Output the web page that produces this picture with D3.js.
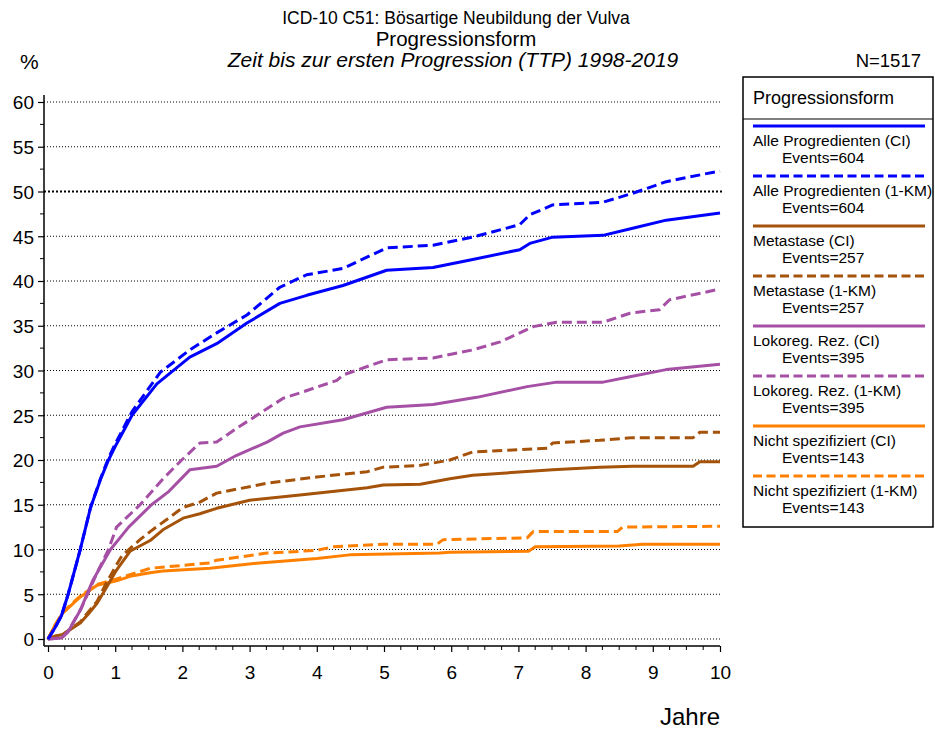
<!DOCTYPE html>
<html>
<head>
<meta charset="utf-8">
<script src="https://cdn.jsdelivr.net/npm/d3@7"></script>
<style>
  body { margin: 0; background: #fff; }
  text { font-family: "Liberation Sans", Arial, sans-serif; }
</style>
</head>
<body>
<div id="chart"></div>
<script>
// values, [years, percent]
const alleCI = [[0,0],[0.1,1.2],[0.2,2.6],[0.3,5],[0.48,10],[0.63,14.6],[0.78,17.8],[0.9,20],[1.0,21.5],[1.25,25],[1.62,28.5],[2.11,31.5],[2.51,33.0],[2.96,35.3],[3.45,37.5],[3.85,38.4],[4.39,39.5],[5.04,41.2],[5.73,41.5],[6.32,42.4],[7.02,43.5],[7.17,44.2],[7.51,44.9],[8.26,45.1],[8.7,45.9],[9.2,46.8],[10,47.6]];
const alleKM = [[0,0],[0.1,1.2],[0.2,2.6],[0.3,5],[0.48,10],[0.63,14.6],[0.78,17.9],[0.9,20.2],[1.0,21.8],[1.25,25.4],[1.67,29.8],[2.11,32.3],[2.51,34.2],[2.96,36.2],[3.45,39.3],[3.85,40.7],[4.39,41.4],[5.04,43.7],[5.73,44.0],[6.32,44.9],[7.02,46.3],[7.17,47.4],[7.51,48.5],[8.26,48.8],[8.7,49.8],[9.2,51.1],[10,52.3]];
const metaCI = [[0,0],[0.1,0.3],[0.22,0.5],[0.48,1.8],[0.6,2.8],[0.73,4.0],[0.85,5.5],[1.02,7.7],[1.22,9.8],[1.52,11.0],[1.71,12.2],[2.01,13.5],[2.26,14.0],[2.51,14.6],[3.0,15.5],[3.75,16.1],[4.75,16.9],[4.99,17.2],[5.54,17.3],[5.98,17.9],[6.32,18.3],[7.51,18.9],[8.21,19.2],[8.7,19.3],[9.6,19.3],[9.7,19.8],[10,19.8]];
const metaKM = [[0,0],[0.1,0.3],[0.22,0.5],[0.48,1.9],[0.73,4.2],[0.85,6.0],[1.02,8.3],[1.1,9.3],[1.37,11.1],[1.52,12.0],[2.01,14.7],[2.26,15.3],[2.51,16.3],[3.26,17.4],[4.0,18.1],[4.75,18.7],[4.99,19.2],[5.54,19.4],[5.98,20.0],[6.32,20.9],[7.43,21.3],[7.51,21.9],[8.21,22.2],[8.7,22.5],[9.6,22.5],[9.7,23.1],[10,23.1]];
const lokoCI = [[0,0],[0.2,0.1],[0.3,0.8],[0.48,3.2],[0.67,6.6],[0.93,10],[1.2,12.5],[1.54,15],[1.8,16.5],[2.11,18.9],[2.51,19.3],[2.8,20.5],[3.26,22.0],[3.5,23.0],[3.75,23.7],[4.39,24.5],[5.04,25.9],[5.73,26.2],[6.38,27.0],[7.13,28.2],[7.57,28.7],[8.26,28.7],[8.66,29.3],[9.2,30.1],[10,30.7]];
const lokoKM = [[0,0],[0.2,0.1],[0.3,0.9],[0.5,3.5],[0.73,7.4],[0.9,10],[1.02,12.5],[1.37,15],[1.7,17.8],[1.99,20],[2.26,21.9],[2.51,22.0],[2.8,23.5],[3.15,25.2],[3.5,26.9],[3.75,27.5],[4.3,28.9],[4.39,29.5],[5.04,31.2],[5.73,31.4],[6.32,32.3],[6.73,33.2],[7.22,34.9],[7.57,35.4],[8.26,35.4],[8.66,36.4],[9.1,36.8],[9.25,37.9],[10,39.1]];
const nichtCI = [[0,0],[0.1,1.5],[0.22,2.9],[0.48,4.7],[0.73,6.0],[1.02,6.5],[1.22,7.0],[1.52,7.4],[1.71,7.6],[2.41,7.9],[3.15,8.5],[4.0,9.0],[4.49,9.4],[5.83,9.6],[5.98,9.7],[7.15,9.8],[7.25,10.3],[8.5,10.4],[8.85,10.6],[10,10.6]];
const nichtKM = [[0,0],[0.1,1.5],[0.22,3.0],[0.48,4.8],[0.73,6.1],[1.02,6.7],[1.52,7.9],[2.41,8.5],[2.51,8.8],[3.26,9.6],[4.0,9.9],[4.24,10.3],[4.99,10.6],[5.79,10.6],[5.88,11.1],[7.13,11.3],[7.22,12.0],[8.47,12.0],[8.55,12.5],[10,12.6]];

const seriesNames = ["Alle Progredienten (CI)", "Alle Progredienten (1-KM)", "Metastase (CI)", "Metastase (1-KM)", "Lokoreg. Rez. (CI)", "Lokoreg. Rez. (1-KM)", "Nicht spezifiziert (CI)", "Nicht spezifiziert (1-KM)"];
const seriesEvents = [604, 604, 257, 257, 395, 395, 143, 143];
const seriesData = [alleCI, alleKM, metaCI, metaKM, lokoCI, lokoKM, nichtCI, nichtKM];
const yTicks = [0, 5, 10, 15, 20, 25, 30, 35, 40, 45, 50, 55, 60];
const xTicks = [0, 1, 2, 3, 4, 5, 6, 7, 8, 9, 10];

const colors = ["#0000ff", "#0000ff", "#a5520a", "#a5520a", "#a550a5", "#a550a5", "#ff8000", "#ff8000"];
const dashed = [false, true, false, true, false, true, false, true];

const width = 935;
const height = 729;

const svg = d3.select("#chart")
    .append("svg")
    .attr("width", width)
    .attr("height", height);

const x = d3.scaleLinear().domain([0, 10]).range([48, 720]);
const y = d3.scaleLinear().domain([0, 60]).range([639, 102]);

const axisX = 44;
const axisY = 646;

// grid
svg.append("g")
    .selectAll("line")
    .data(yTicks)
    .enter()
    .append("line")
    .attr("x1", axisX)
    .attr("x2", x(10) + 2)
    .attr("y1", d => y(d))
    .attr("y2", d => y(d))
    .attr("stroke", "#000")
    .attr("stroke-width", d => d === 50 ? 2 : 1)
    .attr("stroke-dasharray", d => d === 50 ? "2,2" : "1,2");

// y axis
const yAxis = svg.append("g")
    .attr("transform", `translate(${axisX},0)`)
    .call(d3.axisLeft(y).tickValues(yTicks).tickSize(6).tickPadding(4));
yAxis.select(".domain").remove();
yAxis.selectAll("text").attr("font-size", 19).attr("font-family", "Liberation Sans, Arial, sans-serif").attr("dy", "0.36em");
yAxis.selectAll("line").attr("stroke-width", 1.2);
svg.append("g")
    .selectAll("line")
    .data(d3.range(2.5, 60, 5))
    .enter()
    .append("line")
    .attr("x1", axisX - 4)
    .attr("x2", axisX)
    .attr("y1", d => y(d))
    .attr("y2", d => y(d))
    .attr("stroke", "#000");
svg.append("line")
    .attr("x1", axisX).attr("x2", axisX)
    .attr("y1", y(60) - 7).attr("y2", axisY)
    .attr("stroke", "#000").attr("stroke-width", 1.5);

// x axis
const xAxis = svg.append("g")
    .attr("transform", `translate(0,${axisY})`)
    .call(d3.axisBottom(x).tickValues(xTicks).tickSize(6).tickPadding(14));
xAxis.select(".domain").remove();
xAxis.selectAll("text").attr("font-size", 19).attr("font-family", "Liberation Sans, Arial, sans-serif");
xAxis.selectAll("line").attr("stroke-width", 1.2);
svg.append("g")
    .selectAll("line")
    .data(d3.range(0.25, 10, 0.25).filter(d => Math.abs(d - Math.round(d)) > 0.01))
    .enter()
    .append("line")
    .attr("x1", d => x(d))
    .attr("x2", d => x(d))
    .attr("y1", axisY)
    .attr("y2", axisY + 4)
    .attr("stroke", "#000");
svg.append("line")
    .attr("x1", axisX).attr("x2", x(10))
    .attr("y1", axisY).attr("y2", axisY)
    .attr("stroke", "#000").attr("stroke-width", 1.5);

// curves
const line = d3.line()
    .x(d => x(d[0]))
    .y(d => y(d[1]));

const order = [6, 7, 2, 3, 4, 5, 0, 1];
svg.append("g")
    .selectAll("path")
    .data(order)
    .enter()
    .append("path")
    .attr("d", i => line(seriesData[i]))
    .attr("fill", "none")
    .attr("stroke", i => colors[i])
    .attr("stroke-width", 3)
    .attr("stroke-linejoin", "round")
    .attr("stroke-dasharray", i => dashed[i] ? "10,5" : null);

// titles
svg.append("text").attr("x", 456).attr("y", 24).attr("text-anchor", "middle")
    .attr("font-size", 17.5).text("ICD-10 C51: Bösartige Neubildung der Vulva");
svg.append("text").attr("x", 456).attr("y", 46).attr("text-anchor", "middle")
    .attr("font-size", 20.5).text("Progressionsform");
svg.append("text").attr("x", 453).attr("y", 67).attr("text-anchor", "middle")
    .attr("font-size", 21).attr("font-style", "italic")
    .text("Zeit bis zur ersten Progression (TTP) 1998-2019");
svg.append("text").attr("x", 20).attr("y", 69)
    .attr("font-size", 21).text("%");
svg.append("text").attr("x", 921).attr("y", 67).attr("text-anchor", "end")
    .attr("font-size", 18.5).text("N=1517");
svg.append("text").attr("x", 720).attr("y", 725).attr("text-anchor", "end")
    .attr("font-size", 24).text("Jahre");

// legend
const lg = svg.append("g");
svg.append("clipPath").attr("id", "lgclip")
    .append("rect").attr("x", 743).attr("y", 77).attr("width", 190).attr("height", 450);
lg.append("rect")
    .attr("x", 743).attr("y", 77).attr("width", 190).attr("height", 450)
    .attr("fill", "#fff").attr("stroke", "#000").attr("stroke-width", 1.5);
lg.append("text").attr("x", 753).attr("y", 104).attr("font-size", 18).text("Progressionsform");
lg.append("line").attr("x1", 743).attr("x2", 933).attr("y1", 119).attr("y2", 119)
    .attr("stroke", "#000").attr("stroke-width", 1.2);

const entries = lg.append("g").attr("clip-path", "url(#lgclip)")
    .selectAll("g")
    .data(seriesNames)
    .enter()
    .append("g")
    .attr("transform", (d, i) => `translate(0,${126 + i * 50})`);
entries.append("line")
    .attr("x1", 753).attr("x2", 925).attr("y1", 0).attr("y2", 0)
    .attr("stroke", (d, i) => colors[i])
    .attr("stroke-width", 3)
    .attr("stroke-dasharray", (d, i) => dashed[i] ? "9,4.5" : null);
entries.append("text")
    .attr("x", 753).attr("y", 20).attr("font-size", 15.5)
    .text(d => d);
entries.append("text")
    .attr("x", 782).attr("y", 36.5).attr("font-size", 15.5)
    .text((d, i) => `Events=${seriesEvents[i]}`);
</script>
</body>
</html>
